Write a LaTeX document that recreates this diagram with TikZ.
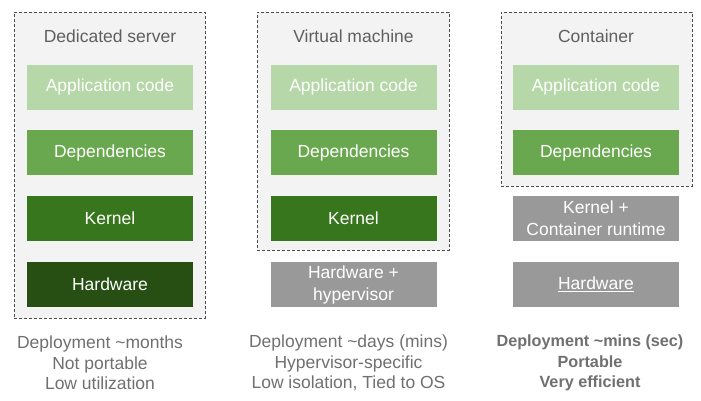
\documentclass[tikz,border=0pt]{standalone}
\usepackage{fontspec}
\setmainfont{Liberation Sans}
\usetikzlibrary{positioning}
\definecolor{appc}{HTML}{B6D7A8}
\definecolor{depc}{HTML}{6AA84F}
\definecolor{kerc}{HTML}{38761D}
\definecolor{hwc}{HTML}{274E13}
\definecolor{grayc}{HTML}{999999}
\definecolor{panelc}{HTML}{F3F3F3}
\definecolor{titlec}{HTML}{5F5F5F}
\definecolor{notec}{HTML}{707070}
\tikzset{
  layer/.style={minimum width=166pt, minimum height=45pt, inner sep=0pt, text=white,
    font=\fontsize{17.5}{22}\selectfont, align=center},
  panel/.style={draw=black!70, dash pattern=on 3pt off 2pt, line width=0.8pt, fill=panelc, inner sep=0pt},
  ptitle/.style={text=titlec, font=\fontsize{17.5}{20}\selectfont},
  note/.style={text=notec, font=\fontsize{17.5}{20.5}\selectfont, align=center}
}
\begin{document}
\begin{tikzpicture}[x=1pt,y=-1pt]
\useasboundingbox[fill=white] (0,0) rectangle (701,400);
% panels
\node[panel, minimum width=191pt, minimum height=306pt] (p1) at (109.5,165) {};
\node[panel, minimum width=192pt, minimum height=238pt] (p2) at (353,131) {};
\node[panel, minimum width=191pt, minimum height=174pt] (p3) at (596.5,99) {};
% titles
\node[ptitle] (t1) at (110,36) {Dedicated server};
\node[ptitle] (t2) at (353.5,36) {Virtual machine};
\node[ptitle] (t3) at (596,36) {Container};
% column 1
\node[layer, fill=appc] (a1) at (110,87) {Application code};
\node[layer, fill=depc] (d1) at (110,152.5) {Dependencies};
\node[layer, fill=kerc] (k1) at (110,218) {Kernel};
\node[layer, fill=hwc] (h1) at (110,284.5) {Hardware};
% column 2
\node[layer, fill=appc] (a2) at (353.5,87) {Application code};
\node[layer, fill=depc] (d2) at (353.5,152.5) {Dependencies};
\node[layer, fill=kerc] (k2) at (353.5,218) {Kernel};
\node[layer, fill=grayc] (h2) at (353.5,284.5) {Hardware +\\hypervisor};
% column 3
\node[layer, fill=appc] (a3) at (596,87) {Application code};
\node[layer, fill=depc] (d3) at (596,152.5) {Dependencies};
\node[layer, fill=grayc] (k3) at (596,218) {Kernel +\\Container runtime};
\node[layer, fill=grayc] (h3) at (596,284.5) {\underline{Hardware}};
% notes
\node[note] (n1) at (100,363) {Deployment \textasciitilde months\\Not portable\\Low utilization};
\node[note] (n2) at (348.5,363) {Deployment \textasciitilde days (mins)\\Hypervisor-specific\\Low isolation, Tied to OS};
\node[note, font=\fontsize{16.2}{20.5}\selectfont\bfseries] (n3) at (590,363) {Deployment \textasciitilde mins (sec)\\Portable\\Very efficient};
\end{tikzpicture}
\end{document}
